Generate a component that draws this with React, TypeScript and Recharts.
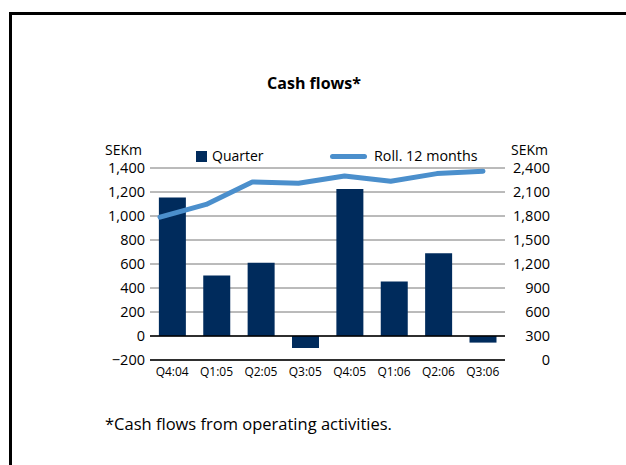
import {
  Bar,
  CartesianGrid,
  ComposedChart,
  Line,
  ReferenceLine,
  XAxis,
  YAxis,
} from "recharts";

const quarters = ["Q4:04", "Q1:05", "Q2:05", "Q3:05", "Q4:05", "Q1:06", "Q2:06", "Q3:06"];
const quarterFlow = [1155, 505, 610, -100, 1225, 455, 690, -55];
const rolling12 = [1785, 1945, 2225, 2210, 2300, 2235, 2330, 2360];

const leftTicks = [-200, 0, 200, 400, 600, 800, 1000, 1200, 1400];
const rightTicks = [0, 300, 600, 900, 1200, 1500, 1800, 2100, 2400];

const NAVY = "#002b5c";
const BLUE = "#4b8fcc";
const FONT = "'Open Sans', 'DejaVu Sans', sans-serif";

const data = quarters.map((q, i) => ({
  q,
  i,
  quarter: quarterFlow[i],
  roll: rolling12[i],
}));

const fmt = (v: number) => (v < 0 ? "\u2212" : "") + Math.abs(v).toLocaleString("en-US");

export default function App() {
  return (
    <div
      style={{
        position: "absolute",
        left: 0,
        top: 0,
        width: 626,
        height: 465,
        overflow: "hidden",
        background: "#fff",
        fontFamily: FONT,
        color: "#000",
      }}
    >
      <div
        style={{
          position: "absolute",
          left: 9,
          top: 12,
          width: 700,
          height: 600,
          border: "3px solid #000",
        }}
      />
      <div
        style={{
          position: "absolute",
          left: 0,
          width: 628,
          top: 72,
          textAlign: "center",
          fontWeight: 700,
          fontSize: 16,
        }}
      >
        Cash flows*
      </div>

      <div style={{ position: "absolute", left: 105, top: 140, fontSize: 14 }}>SEKm</div>
      <div style={{ position: "absolute", left: 511, top: 140, fontSize: 14 }}>SEKm</div>

      {/* legend */}
      <div style={{ position: "absolute", left: 196, top: 151, width: 11, height: 11, background: NAVY }} />
      <div style={{ position: "absolute", left: 212, top: 146, fontSize: 14 }}>Quarter</div>
      <div
        style={{
          position: "absolute",
          left: 330,
          top: 154,
          width: 37,
          height: 5,
          borderRadius: 3,
          background: BLUE,
        }}
      />
      <div style={{ position: "absolute", left: 374, top: 146, fontSize: 14.3 }}>Roll. 12 months</div>

      <div style={{ position: "absolute", left: 0, top: 0 }}>
        <ComposedChart
          width={626}
          height={465}
          data={data}
          margin={{ top: 168, right: 61, bottom: 75, left: 100 }}
          barCategoryGap="20%"
        >
          <CartesianGrid vertical={false} stroke="#777" />
          <XAxis
            dataKey="q"
            axisLine={{ stroke: "#000", strokeWidth: 1.5 }}
            tickLine={false}
            tickSize={0}
            tickMargin={7}
            height={30}
            interval={0}
            tick={{ fontSize: 12, fill: "#000", fontFamily: FONT }}
          />
          <XAxis
            xAxisId="line"
            dataKey="i"
            type="number"
            domain={[0, 7]}
            padding={{ left: 10, right: 22 }}
            hide
          />
          <YAxis
            domain={[-200, 1400]}
            ticks={leftTicks}
            axisLine={false}
            tickLine={false}
            tickSize={0}
            tickMargin={5}
            width={50}
            interval={0}
            tickFormatter={fmt}
            tick={{ fontSize: 14.5, fill: "#000", fontFamily: FONT }}
          />
          <YAxis
            yAxisId="right"
            orientation="right"
            domain={[0, 2400]}
            ticks={rightTicks}
            axisLine={false}
            tickLine={false}
            tickSize={0}
            tickMargin={45}
            width={60}
            interval={0}
            tickFormatter={fmt}
            tick={{ fontSize: 14.5, fill: "#000", fontFamily: FONT, textAnchor: "end" }}
          />
          <ReferenceLine y={0} stroke="#000" strokeWidth={1.5} />
          <Bar dataKey="quarter" fill={NAVY} isAnimationActive={false} />
          <Line
            xAxisId="line"
            yAxisId="right"
            dataKey="roll"
            stroke={BLUE}
            strokeWidth={5}
            strokeLinecap="round"
            strokeLinejoin="round"
            dot={false}
            activeDot={false}
            type="linear"
            isAnimationActive={false}
          />
        </ComposedChart>
      </div>

      <div style={{ position: "absolute", left: 105, top: 412, fontSize: 16.5 }}>
        *Cash flows from operating activities.
      </div>
    </div>
  );
}
